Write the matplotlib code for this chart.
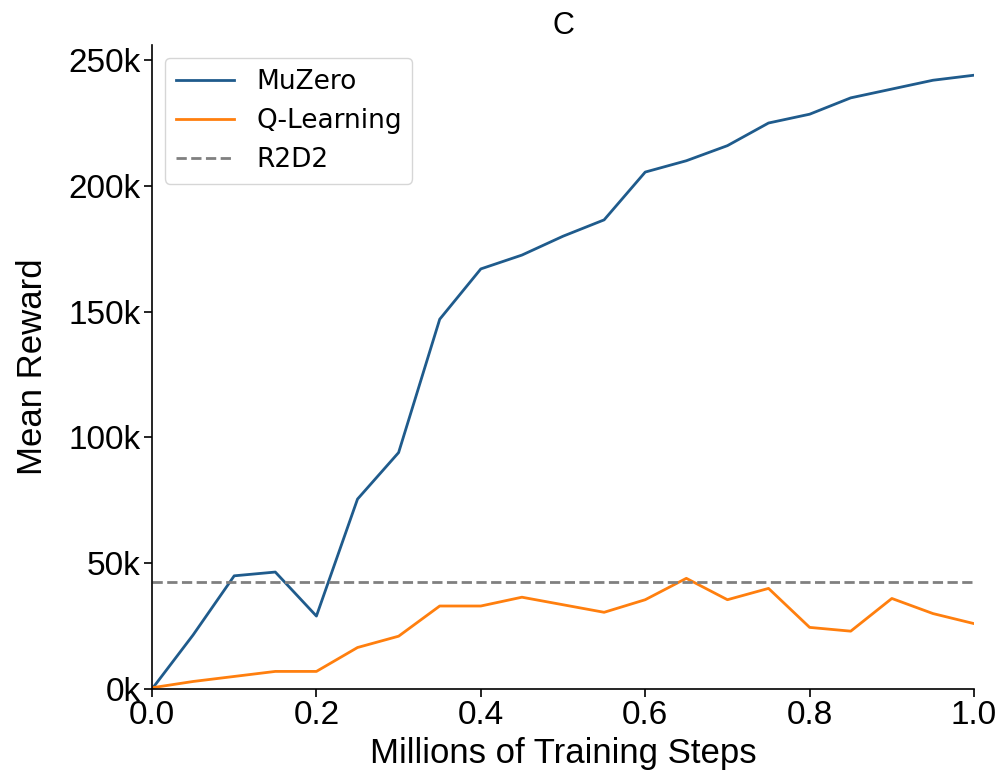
import numpy as np
import matplotlib
matplotlib.use("Agg")
import matplotlib.pyplot as plt
from matplotlib.ticker import FuncFormatter

plt.rcParams['font.family'] = ['Liberation Sans', 'DejaVu Sans']

# training steps in millions
steps = [0.0, 0.05, 0.1, 0.15, 0.2, 0.25, 0.3, 0.35, 0.4, 0.45, 0.5,
         0.55, 0.6, 0.65, 0.7, 0.75, 0.8, 0.85, 0.9, 0.95, 1.0]

muzero = [0, 21500, 45000, 46500, 29000, 75500, 94000, 147000, 167000, 172500, 180000,
          186500, 205500, 210000, 216000, 225000, 228500, 235000, 238500, 242000, 244000]

qlearning = [500, 3000, 5000, 7000, 7000, 16500, 21000, 33000, 33000, 36500, 33500,
             30500, 35500, 44000, 35500, 40000, 24500, 23000, 36000, 30000, 26000]

r2d2 = 42500

fig = plt.figure(figsize=(10.02, 7.79), dpi=100)
ax = fig.add_axes([0.1517, 0.1155, 0.8204, 0.8267])

ax.plot(steps, muzero, color='#1f5b8c', lw=2.0, label='MuZero')
ax.plot(steps, qlearning, color='#ff7f0e', lw=2.0, label='Q-Learning')
ax.axhline(r2d2, color='#808080', lw=2.0, ls='--', label='R2D2')

ax.set_xlim(0, 1.0)
ax.set_ylim(0, 256000)
ax.set_xticks([0.0, 0.2, 0.4, 0.6, 0.8, 1.0])
ax.set_yticks([0, 50000, 100000, 150000, 200000, 250000])
ax.yaxis.set_major_formatter(FuncFormatter(lambda v, p: '%dk' % (v / 1000)))
ax.tick_params(labelsize=24, length=6, width=1.2, pad=2)

ax.spines['top'].set_visible(False)
ax.spines['right'].set_visible(False)
for s in ('left', 'bottom'):
    ax.spines[s].set_linewidth(1.2)

ax.set_xlabel('Millions of Training Steps', fontsize=25, labelpad=4)
ax.set_ylabel('Mean Reward', fontsize=25, labelpad=14)
ax.set_title('C', fontsize=22, pad=8)

ax.legend(loc='upper left', prop={'family': 'DejaVu Sans', 'size': 19},
          frameon=True, borderpad=0.4, handlelength=2.2, handletextpad=0.85,
          borderaxespad=0.5, bbox_to_anchor=(0.0, 1.0))

fig.savefig('out.png', dpi=100)
